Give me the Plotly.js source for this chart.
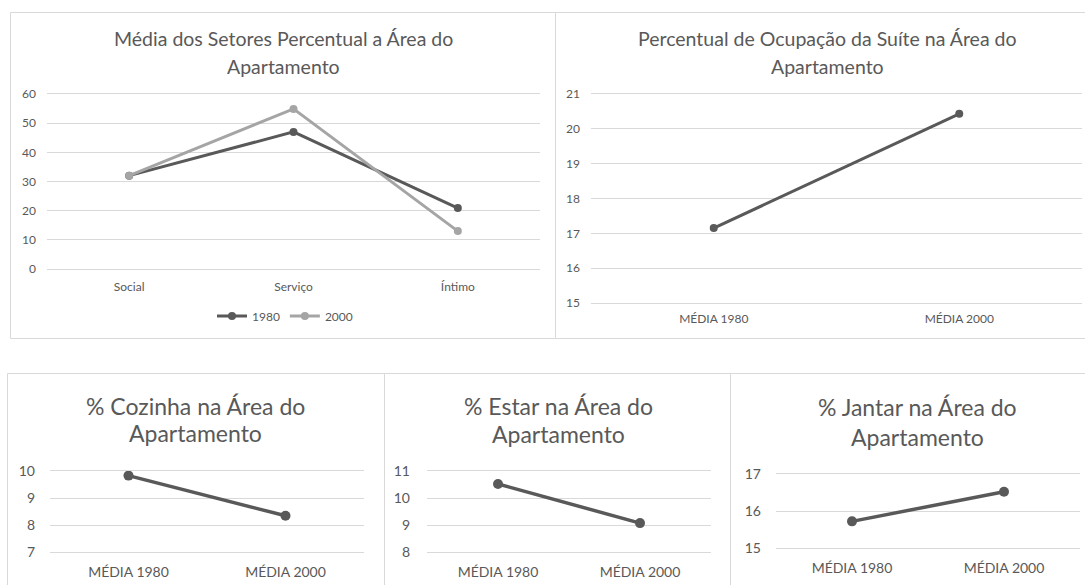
<!DOCTYPE html>
<html>
<head>
<meta charset="utf-8">
<script src="https://cdn.plot.ly/plotly-3.0.1.min.js"></script>
<style>html,body{margin:0;padding:0;background:#fff;}#chart{width:1085px;height:585px;}</style>
</head>
<body>
<div id="chart"></div>
<script>
// ---- data ----
const sectorCategories = ['Social', 'Serviço', 'Íntimo'];
const sectors1980 = [32.0, 47.0, 20.9];
const sectors2000 = [32.0, 54.9, 13.0];
const seriesNames = ['1980', '2000'];

const mediaCategories = ['MÉDIA 1980', 'MÉDIA 2000'];
const suiteValues = [17.15, 20.43];
const cozinhaValues = [9.83, 8.34];
const estarValues = [10.52, 9.07];
const jantarValues = [15.72, 16.52];

const titleSectors = ['Média dos Setores Percentual a Área do', 'Apartamento'];
const titleSuite = ['Percentual de Ocupação da Suíte na Área do', 'Apartamento'];
const titleCozinha = ['% Cozinha na Área do', 'Apartamento'];
const titleEstar = ['% Estar na Área do', 'Apartamento'];
const titleJantar = ['% Jantar na Área do', 'Apartamento'];

// ---- layout helpers ----
const W = 1085, H = 585;
const px = v => v / W;
const py = v => 1 - v / H;
const TXT = '#595959';
const GRID = '#d9d9d9';
const FONT = 'Lato, "Open Sans", sans-serif';
const DARK = '#595959';
const LIGHT = '#a5a5a5';

function xax(x0, x1, anchor, size, standoff) {
  return {domain: [px(x0), px(x1)], anchor: anchor, type: 'category', range: [-0.5, 1.5],
    showgrid: false, zeroline: false, showline: true, linecolor: GRID, linewidth: 1, mirror: true,
    ticks: '', fixedrange: true,
    tickfont: {family: FONT, size: size, color: TXT}, ticklabelstandoff: standoff};
}
function yax(y0, y1, anchor, range, dtick, size, standoff) {
  return {domain: [py(y1), py(y0)], anchor: anchor, range: range, dtick: dtick,
    showgrid: true, gridcolor: GRID, gridwidth: 1, zeroline: false, showline: false, ticks: '',
    fixedrange: true, tickfont: {family: FONT, size: size, color: TXT}, ticklabelstandoff: standoff};
}

const traces = [
  {x: sectorCategories, y: sectors1980, name: seriesNames[0], type: 'scatter', mode: 'lines+markers',
   line: {color: DARK, width: 3}, marker: {color: DARK, size: 8}, xaxis: 'x', yaxis: 'y'},
  {x: sectorCategories, y: sectors2000, name: seriesNames[1], type: 'scatter', mode: 'lines+markers',
   line: {color: LIGHT, width: 3}, marker: {color: LIGHT, size: 8}, xaxis: 'x', yaxis: 'y'},
  {x: mediaCategories, y: suiteValues, type: 'scatter', mode: 'lines+markers', showlegend: false,
   line: {color: DARK, width: 3}, marker: {color: DARK, size: 8}, xaxis: 'x2', yaxis: 'y2'},
  {x: mediaCategories, y: cozinhaValues, type: 'scatter', mode: 'lines+markers', showlegend: false,
   line: {color: DARK, width: 3.5}, marker: {color: DARK, size: 10}, xaxis: 'x3', yaxis: 'y3'},
  {x: mediaCategories, y: estarValues, type: 'scatter', mode: 'lines+markers', showlegend: false,
   line: {color: DARK, width: 3.5}, marker: {color: DARK, size: 10}, xaxis: 'x4', yaxis: 'y4'},
  {x: mediaCategories, y: jantarValues, type: 'scatter', mode: 'lines+markers', showlegend: false,
   line: {color: DARK, width: 3.5}, marker: {color: DARK, size: 10}, xaxis: 'x5', yaxis: 'y5'}
];

const x1 = xax(47, 540, 'y', 12, 7); x1.range = [-0.5, 2.5];
const layout = {
  width: W, height: H, margin: {l: 0, r: 0, t: 0, b: 0},
  paper_bgcolor: '#fff', plot_bgcolor: 'rgba(0,0,0,0)',
  font: {family: FONT, color: TXT},
  hovermode: false,
  xaxis: x1,
  yaxis: yax(94, 269, 'x', [0, 60], 10, 12, 10),
  xaxis2: xax(591, 1082, 'y2', 12, 5),
  yaxis2: yax(94, 303, 'x2', [15, 21], 1, 12, 10),
  xaxis3: xax(50, 364, 'y3', 14, 7),
  yaxis3: yax(471, 552, 'x3', [7, 10], 1, 14, 14),
  xaxis4: xax(427, 711, 'y4', 14, 7),
  yaxis4: yax(471, 552, 'x4', [8, 11], 1, 14, 16),
  xaxis5: xax(776, 1080, 'y5', 14, 7),
  yaxis5: yax(474, 548, 'x5', [15, 17], 1, 14, 14),
  showlegend: true,
  legend: {orientation: 'h', x: px(285), xanchor: 'center', y: py(316), yanchor: 'middle',
    font: {family: FONT, size: 12, color: TXT}, bgcolor: 'rgba(0,0,0,0)', itemwidth: 30},
  shapes: [
    {type: 'rect', xref: 'paper', yref: 'paper', x0: px(10.5), x1: px(555.5), y0: py(338.5), y1: py(12.5), line: {color: GRID, width: 1}},
    {type: 'rect', xref: 'paper', yref: 'paper', x0: px(555.5), x1: px(1095), y0: py(338.5), y1: py(12.5), line: {color: GRID, width: 1}},
    {type: 'rect', xref: 'paper', yref: 'paper', x0: px(7.5), x1: px(384.5), y0: py(600), y1: py(373.5), line: {color: GRID, width: 1}},
    {type: 'rect', xref: 'paper', yref: 'paper', x0: px(384.5), x1: px(730.5), y0: py(600), y1: py(373.5), line: {color: GRID, width: 1}},
    {type: 'rect', xref: 'paper', yref: 'paper', x0: px(730.5), x1: px(1095), y0: py(600), y1: py(373.5), line: {color: GRID, width: 1}}
  ],
  annotations: []
};

function addTitle(lines, cx, ys, size) {
  lines.forEach((t, i) => {
    layout.annotations.push({text: t, xref: 'paper', yref: 'paper', x: px(cx), y: py(ys[i]),
      xanchor: 'center', yanchor: 'middle', showarrow: false,
      font: {family: FONT, size: size, color: TXT}});
  });
}
addTitle(titleSectors, 283, [39, 66], 19.5);
addTitle(titleSuite, 827, [39, 66], 19.5);
addTitle(titleCozinha, 195, [406, 433], 23);
addTitle(titleEstar, 558, [406, 434], 23);
addTitle(titleJantar, 917, [407, 437], 23);

Plotly.newPlot('chart', traces, layout, {displayModeBar: false, staticPlot: true});
</script>
</body>
</html>
